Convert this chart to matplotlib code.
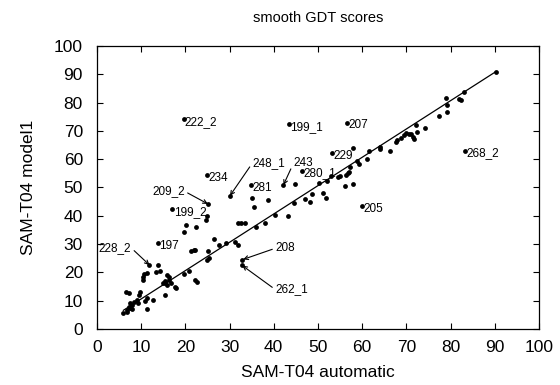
import matplotlib
matplotlib.use("Agg")
import matplotlib.pyplot as plt

plt.rcParams['font.family'] = ['Liberation Sans', 'DejaVu Sans']

# ---- data ----
auto_x = [5.9, 6.8, 6.9, 7.5, 7.9, 7.2, 7.5, 7.9, 8.3, 9.0, 9.4, 10.9, 11.3, 12.8, 11.4,
          6.6, 7.2, 9.8, 9.6, 10.4, 10.4, 10.7, 11.3, 11.9, 13.9, 13.4, 14.3, 15.8, 16.2,
          15.4, 14.9, 15.4, 15.9, 16.7, 16.2, 17.7, 17.9, 15.4, 19.7, 20.8, 22.3, 22.6,
          21.4, 21.9, 22.3, 25.1, 24.9, 25.3, 26.4, 27.6, 29.3, 31.2, 31.9,
          13.8, 17.1, 19.8, 20.1, 22.5, 24.6, 24.9, 25.1, 24.9, 19.6,
          30.1, 31.9, 32.7, 33.4, 32.9, 32.9,
          34.8, 35.1, 35.5, 36.1, 38.1, 38.6, 40.2, 43.3, 42.2, 44.9, 43.4, 46.4,
          44.6, 47.0, 48.1, 48.6, 50.2, 51.1, 51.8, 52.0, 53.0, 54.6, 54.9, 56.2, 58.0,
          56.4, 56.8, 57.1, 57.3, 58.8, 59.4, 53.2, 57.9, 56.6, 61.2, 61.6, 64.0, 64.1,
          66.4, 67.7, 67.9, 68.8, 69.5, 70.0, 70.5, 71.0, 71.5, 71.8, 72.3, 72.2, 74.3,
          77.3, 79.3, 79.2, 79.0, 81.9, 82.4, 83.1, 90.2, 83.2, 60.0]
model1_y = [5.6, 6.1, 6.7, 7.3, 7.0, 7.9, 9.1, 8.5, 9.6, 10.2, 9.1, 10.0, 10.8, 10.2, 7.0,
            13.2, 12.6, 13.2, 12.0, 17.3, 18.5, 19.4, 19.7, 22.6, 22.6, 20.2, 20.6, 19.1, 18.3,
            17.1, 16.1, 16.1, 15.5, 16.1, 17.3, 14.9, 14.4, 12.0, 19.5, 20.6, 17.3, 16.7,
            27.7, 27.9, 27.8, 27.7, 24.4, 25.0, 31.7, 29.7, 30.3, 30.9, 29.7,
            30.3, 42.4, 34.4, 36.7, 35.9, 38.5, 39.9, 44.2, 54.4, 74.2,
            47.1, 37.6, 37.6, 37.6, 24.4, 22.5,
            50.9, 46.2, 43.0, 36.0, 37.6, 45.6, 40.3, 39.9, 50.9, 51.1, 72.4, 55.9,
            44.4, 46.0, 44.8, 47.7, 51.5, 48.2, 46.3, 52.2, 53.9, 53.6, 54.1, 50.6, 51.2,
            54.4, 55.0, 55.6, 57.3, 59.2, 58.3, 62.1, 64.1, 72.9, 60.0, 62.9, 64.4, 63.5,
            62.8, 66.0, 66.8, 67.5, 68.5, 69.3, 68.8, 69.0, 68.0, 67.2, 69.7, 72.2, 71.2,
            75.1, 76.7, 79.3, 81.7, 81.3, 81.0, 83.9, 90.9, 63.0, 43.5]

# fitted line endpoints
fit_x = [6.0, 90.2]
fit_y = [6.6, 90.9]

# labelled points (label placed right of the dot)
dot_names = ['222_2', '199_1', '234', '281', '280_1', '199_2', '197', '207', '229', '268_2', '205']
dot_x = [19.6, 43.4, 24.9, 34.8, 46.4, 17.1, 13.8, 56.6, 53.2, 83.2, 60.0]
dot_y = [74.2, 72.4, 54.4, 50.9, 55.9, 42.4, 30.3, 72.9, 62.1, 63.0, 43.5]

# labelled points with arrows
arrow_names = ['248_1', '243', '209_2', '228_2', '208', '262_1']
arrow_px = [30.1, 42.2, 25.1, 11.9, 33.1, 32.9]
arrow_py = [47.1, 50.9, 44.2, 22.6, 24.6, 22.4]

x_ticks = [0, 10, 20, 30, 40, 50, 60, 70, 80, 90, 100]
y_ticks = [0, 10, 20, 30, 40, 50, 60, 70, 80, 90, 100]

# ---- plot ----
fig = plt.figure(figsize=(5.6, 3.85), dpi=100)
ax = fig.add_axes([0.173, 0.1455, 0.7895, 0.735])

ax.plot(fit_x, fit_y, color='black', lw=0.9, zorder=2)
ax.scatter(auto_x, model1_y, s=12, color='black', zorder=3, linewidths=0)

for name, px, py in zip(dot_names, dot_x, dot_y):
    ax.annotate(name, (px, py), xytext=(1.0, -2.0), textcoords='offset points',
                ha='left', va='center', fontsize=8.5)

# text layout for arrow labels: (x, y, ha, relpos)
arrow_text_layout = [
    (35.2, 58.7, 'left', (0.0, 0.5)),
    (44.5, 58.7, 'left', (0.0, 0.5)),
    (19.9, 48.6, 'right', (1.0, 0.5)),
    (7.8, 28.6, 'right', (1.0, 0.5)),
    (40.3, 28.5, 'left', (0.0, 0.5)),
    (40.3, 14.0, 'left', (0.0, 0.5)),
]
for name, px, py, (tx, ty, ha, rp) in zip(arrow_names, arrow_px, arrow_py, arrow_text_layout):
    ax.annotate(name, (px, py), xytext=(tx, ty), textcoords='data',
                ha=ha, va='center', fontsize=8.5,
                arrowprops=dict(arrowstyle='->', color='black', lw=0.8,
                                shrinkA=0, shrinkB=0, relpos=rp,
                                mutation_scale=7))

ax.set_xlim(0, 100)
ax.set_ylim(0, 100)
ax.set_xticks(x_ticks)
ax.set_yticks(y_ticks)
ax.tick_params(direction='in', length=4, width=0.8, top=True, right=True,
               labelsize=12.5)
ax.tick_params(axis='x', pad=8)
ax.tick_params(axis='y', pad=10)
for s in ax.spines.values():
    s.set_linewidth(0.9)

ax.set_xlabel('SAM-T04 automatic', fontsize=12.5, labelpad=7)
ax.set_ylabel('SAM-T04 model1', fontsize=12.5, labelpad=13)
ax.set_title('smooth GDT scores', fontsize=10.5, pad=17)

fig.savefig('out.png', dpi=100)
